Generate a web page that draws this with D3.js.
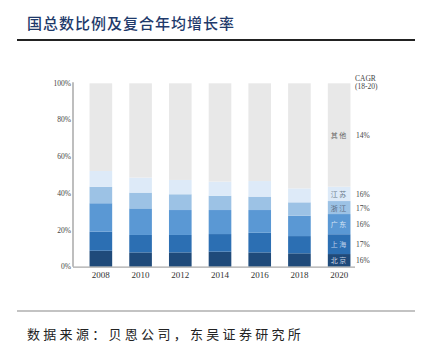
<!DOCTYPE html>
<html><head><meta charset="utf-8">
<script src="https://cdn.jsdelivr.net/npm/d3@7"></script>
<style>body{margin:0;background:#fff}svg{display:block}</style>
</head><body>
<svg id="c" width="425" height="346"></svg>
<script>
const years = ['2008','2010','2012','2014','2016','2018','2020'];
const regions = ['北京','上海','广东','浙江','江苏','其他'];
const beijing  = [8.7, 7.8, 7.8, 8.2, 7.8, 7.3, 6.9];
const shanghai = [10.4, 9.5, 9.5, 9.6, 10.7, 9.4, 10.8];
const guangdong= [15.5, 14.5, 13.6, 13.1, 12.4, 11.1, 11.0];
const zhejiang = [9.0, 8.6, 8.6, 7.8, 7.3, 7.3, 7.1];
const jiangsu  = [8.6, 8.2, 7.8, 7.7, 8.5, 7.6, 7.8];
const other    = [47.8, 51.4, 52.7, 53.6, 53.3, 57.3, 56.4];
const cagr     = ['16%','17%','16%','17%','16%','14%'];
const yTicks   = [0,20,40,60,80,100];
const colors   = ['#1f4a7a','#2c6fb3','#5a98d4','#9cc2e5','#ddeaf8','#e8e8e8'];
const labelColors = ['#c8d4e4','#bcd0ea','#d6e4f4','#5a6a80','#6a7a8a','#666'];

const series = [beijing, shanghai, guangdong, zhejiang, jiangsu, other];
const rows = years.map((y,i)=>{const r={year:y}; regions.forEach((k,j)=>r[k]=series[j][i]); return r;});
const stacked = d3.stack().keys(regions)(rows);

const svg = d3.select('#c');
const x = d3.scaleBand().domain(years).range([81,359]).paddingInner(0.43).paddingOuter(0.215);
const y = d3.scaleLinear().domain([0,100]).range([266.7,83.3]);

// title
svg.append('text').attr('x',27).attr('y',29).text('国总数比例及复合年均增长率')
  .attr('font-family','Noto Sans CJK SC').attr('font-size',15).attr('font-weight',500)
  .attr('letter-spacing',1).attr('fill','#1f3a6b');
svg.append('line').attr('x1',17).attr('x2',415).attr('y1',40).attr('y2',40)
  .attr('stroke','#222').attr('stroke-width',2.2);

// bars
const g = svg.append('g');
g.selectAll('g.s').data(stacked).join('g').attr('fill',(d,i)=>colors[i])
  .selectAll('rect').data(d=>d).join('rect')
  .attr('x',d=>x(d.data.year)).attr('width',x.bandwidth())
  .attr('y',d=>y(d[1])).attr('height',d=>y(d[0])-y(d[1]));

// axes
svg.append('line').attr('x1',73).attr('x2',73).attr('y1',y(100)-1).attr('y2',y(0))
  .attr('stroke','#a8a8a8').attr('stroke-width',1.5);
svg.append('line').attr('x1',73).attr('x2',355).attr('y1',y(0)+0.5).attr('y2',y(0)+0.5)
  .attr('stroke','#a8a8a8').attr('stroke-width',1.2);

svg.selectAll('text.yt').data(yTicks).join('text').attr('class','yt')
  .attr('x',71).attr('y',d=>y(d)+2.5).attr('text-anchor','end')
  .attr('font-family','Liberation Serif').attr('font-size',7.5).attr('fill','#444')
  .text(d=>d+'%');

svg.selectAll('text.xt').data(years).join('text').attr('class','xt')
  .attr('x',d=>x(d)+x.bandwidth()/2).attr('y',278).attr('text-anchor','middle')
  .attr('font-family','Liberation Serif').attr('font-size',9).attr('fill','#333')
  .text(d=>d);

// labels on last bar
const last = stacked.map(s=>s[s.length-1]);
const cx = x('2020')+x.bandwidth()/2;
svg.selectAll('text.rl').data(last).join('text').attr('class','rl')
  .attr('x',cx).attr('y',d=>(y(d[0])+y(d[1]))/2+3)
  .attr('text-anchor','middle').attr('font-family','Noto Sans CJK SC').attr('font-size',7)
  .attr('letter-spacing',1.5)
  .attr('fill',(d,i)=>labelColors[i]).text((d,i)=>regions[i]);
svg.selectAll('text.cg').data(last).join('text').attr('class','cg')
  .attr('x',356).attr('y',(d)=>(y(d[0])+y(d[1]))/2+3)
  .attr('font-family','Liberation Serif').attr('font-size',7.5).attr('fill','#444')
  .text((d,i)=>cagr[i]);
svg.append('text').attr('x',355).attr('y',81).text('CAGR')
  .attr('font-family','Liberation Serif').attr('font-size',7.5).attr('fill','#444');
svg.append('text').attr('x',355).attr('y',89).text('(18-20)')
  .attr('font-family','Liberation Serif').attr('font-size',7.5).attr('fill','#444');

// footer
svg.append('line').attr('x1',17).attr('x2',415).attr('y1',311).attr('y2',311)
  .attr('stroke','#888').attr('stroke-width',1.2);
svg.append('text').attr('x',27).attr('y',339).text('数据来源：贝恩公司，东吴证券研究所')
  .attr('font-family','Noto Sans CJK SC').attr('font-size',13).attr('letter-spacing',3.3)
  .attr('fill','#222');
</script>
</body></html>
